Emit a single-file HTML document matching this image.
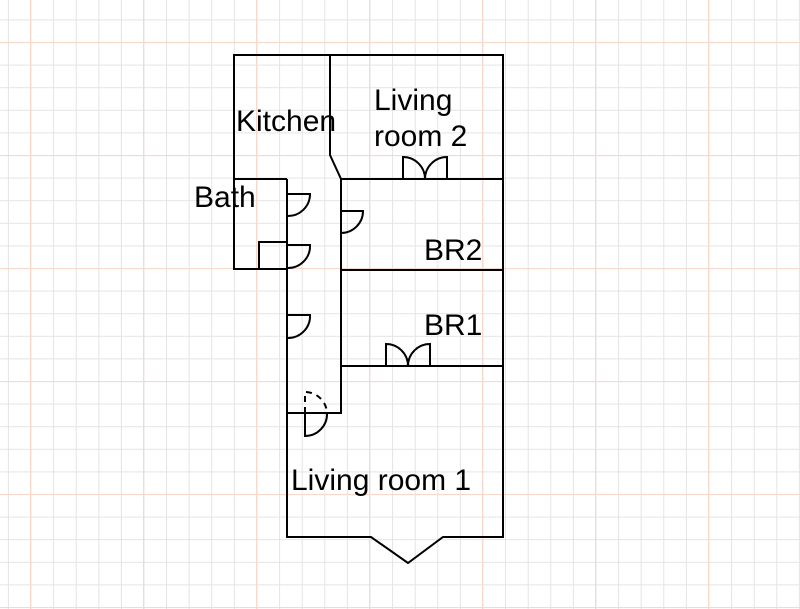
<!DOCTYPE html>
<html><head><meta charset="utf-8"><style>html,body{margin:0;padding:0;background:#fff}svg{display:block}</style></head>
<body>
<svg width="800" height="609" viewBox="0 0 800 609" xmlns="http://www.w3.org/2000/svg">
<defs>
<pattern id="minor" x="7.9" y="19.4" width="22.6" height="22.6" patternUnits="userSpaceOnUse">
<path d="M0.5 0V22.6M0 0.5H22.6" stroke="#e4e4e4" stroke-width="1" fill="none"/>
</pattern>
<pattern id="major" x="30" y="42" width="113" height="113" patternUnits="userSpaceOnUse">
<path d="M0.5 0V113M0 0.5H113" stroke="#f6d8cc" stroke-width="1.2" fill="none"/>
</pattern>
</defs>
<rect width="800" height="609" fill="url(#minor)"/>
<rect width="800" height="609" fill="url(#major)"/>
<g stroke="#000" stroke-width="2" fill="none">
<path d="M234 55H503V537H443L408 563L371 537H287V269H234Z"/>
<path d="M287 179V269"/>
<path d="M330 55V155L341 179V413H287"/>
<path d="M341 179H503"/>
<path d="M234 179H287"/>
<path d="M259 269V242H287"/>
<path d="M341 270H503"/>
<path d="M341 366H503"/>
<path d="M287 194H310A22 22 0 0 1 287 216"/>
<path d="M287 245H310A22 22 0 0 1 287 268"/>
<path d="M287 315H310A22 22 0 0 1 287 338"/>
<path d="M341 211H363A22 22 0 0 1 341 233"/>
<path d="M403 179V157A22 22 0 0 1 425 179"/>
<path d="M447 179V157A22 22 0 0 0 425 179"/>
<path d="M386 366V344A22 22 0 0 1 408 366"/>
<path d="M430 366V344A22 22 0 0 0 408 366"/>
<path d="M305 413V436A22 22 0 0 0 327 413"/>
<path d="M305 413V392A22 22 0 0 1 327 413" stroke-dasharray="6 5"/>
</g>
<g font-family="Liberation Sans, Arial, sans-serif" font-size="30" fill="#000">
<text x="236" y="131">Kitchen</text>
<text x="194" y="207">Bath</text>
<text x="374" y="110">Living</text>
<text x="374" y="146">room 2</text>
<text x="424" y="260">BR2</text>
<text x="424" y="335">BR1</text>
<text x="291" y="490">Living room 1</text>
</g>
</svg>
</body></html>
